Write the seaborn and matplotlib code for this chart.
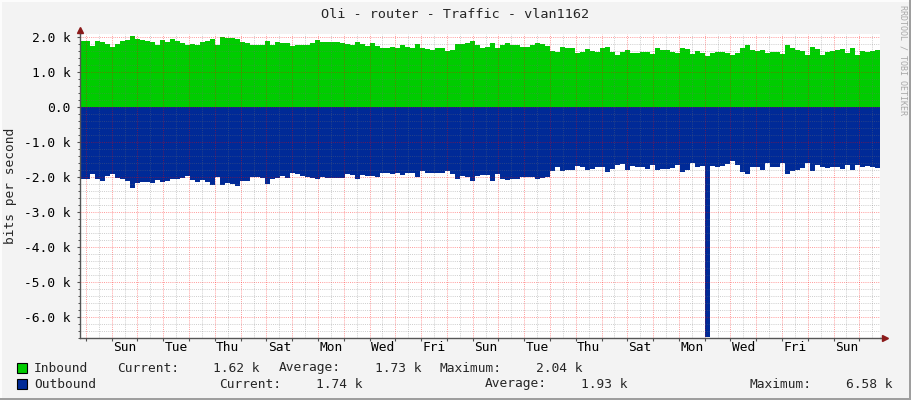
import numpy as np
import pandas as pd
import matplotlib
matplotlib.use("Agg")
import matplotlib.pyplot as plt
from matplotlib.patches import Rectangle
from matplotlib.ticker import FixedLocator, FuncFormatter, FixedFormatter
import seaborn as sns

sns.set_style("white")
plt.rcParams['font.family'] = ['DejaVu Sans Mono', 'DejaVu Sans']

# -------------------------------
# Data (k bits per second, one value per consolidated step)
# -------------------------------
inbound = [
    1.89, 1.89, 1.75, 1.89, 1.86, 1.81, 1.72, 1.80, 1.88, 1.92,
    2.02, 1.93, 1.91, 1.90, 1.87, 1.78, 1.92, 1.86, 1.93, 1.90,
    1.83, 1.77, 1.80, 1.77, 1.87, 1.90, 1.93, 1.77, 2.00, 1.97,
    1.96, 1.93, 1.85, 1.84, 1.77, 1.77, 1.77, 1.90, 1.78, 1.85,
    1.82, 1.84, 1.74, 1.78, 1.77, 1.78, 1.82, 1.91, 1.86, 1.87,
    1.86, 1.85, 1.84, 1.80, 1.77, 1.86, 1.80, 1.74, 1.82, 1.74,
    1.70, 1.70, 1.71, 1.70, 1.76, 1.71, 1.70, 1.80, 1.68, 1.65,
    1.64, 1.70, 1.68, 1.61, 1.63, 1.80, 1.81, 1.82, 1.88, 1.77,
    1.70, 1.72, 1.82, 1.70, 1.78, 1.82, 1.77, 1.77, 1.72, 1.72,
    1.77, 1.82, 1.79, 1.74, 1.60, 1.56, 1.72, 1.68, 1.68, 1.53,
    1.57, 1.67, 1.60, 1.58, 1.68, 1.72, 1.58, 1.48, 1.58, 1.63,
    1.53, 1.55, 1.58, 1.58, 1.51, 1.70, 1.63, 1.63, 1.57, 1.53,
    1.70, 1.65, 1.51, 1.60, 1.53, 1.46, 1.53, 1.56, 1.58, 1.55,
    1.49, 1.55, 1.68, 1.77, 1.63, 1.59, 1.64, 1.53, 1.56, 1.58,
    1.51, 1.77, 1.68, 1.63, 1.60, 1.49, 1.72, 1.65, 1.50, 1.58,
    1.61, 1.63, 1.65, 1.55, 1.68, 1.50, 1.60, 1.58, 1.59, 1.62,
]

outbound = [
    2.07, 2.05, 1.92, 2.07, 2.10, 1.98, 1.92, 2.02, 2.07, 2.12,
    2.30, 2.18, 2.13, 2.15, 2.16, 2.09, 2.13, 2.10, 2.07, 2.07,
    2.03, 1.97, 2.09, 2.13, 2.09, 2.15, 2.24, 2.01, 2.22, 2.18,
    2.20, 2.27, 2.11, 2.10, 1.99, 1.99, 2.03, 2.19, 2.05, 2.04,
    1.98, 2.04, 1.88, 1.92, 1.97, 1.99, 2.04, 2.07, 2.00, 2.04,
    2.04, 2.04, 2.02, 1.90, 1.95, 2.05, 1.95, 1.97, 1.96, 2.01,
    1.88, 1.88, 1.90, 1.89, 1.95, 1.88, 1.88, 1.99, 1.82, 1.88,
    1.88, 1.88, 1.88, 1.84, 1.90, 2.05, 1.98, 2.00, 2.12, 1.97,
    1.94, 1.94, 2.10, 1.90, 2.05, 2.08, 2.06, 2.05, 1.99, 1.99,
    2.00, 2.06, 2.03, 1.99, 1.82, 1.71, 1.84, 1.80, 1.80, 1.68,
    1.70, 1.80, 1.78, 1.70, 1.70, 1.86, 1.78, 1.65, 1.62, 1.81,
    1.69, 1.70, 1.70, 1.78, 1.66, 1.81, 1.78, 1.76, 1.73, 1.66,
    1.85, 1.79, 1.60, 1.70, 1.69, 6.58, 1.69, 1.70, 1.69, 1.62,
    1.55, 1.66, 1.85, 1.90, 1.70, 1.72, 1.79, 1.61, 1.70, 1.70,
    1.61, 1.92, 1.82, 1.80, 1.75, 1.59, 1.84, 1.66, 1.70, 1.75,
    1.70, 1.70, 1.78, 1.66, 1.80, 1.66, 1.70, 1.68, 1.70, 1.74,
]

day_names = ["Sun", "Tue", "Thu", "Sat", "Mon", "Wed", "Fri", "Sun",
             "Tue", "Thu", "Sat", "Mon", "Wed", "Fri", "Sun"]

legend_names = ["Inbound", "Outbound"]
legend_colors = ["#00CC00", "#002A97"]
current_vals = ["1.62 k", "1.74 k"]
average_vals = ["1.73 k", "1.93 k"]
maximum_vals = ["2.04 k", "6.58 k"]

# time axis in days, day boundaries at integers
t_start, t_end = -0.23, 30.80
edges = np.linspace(t_start, t_end, len(inbound) + 1)
df = pd.DataFrame({
    "t": (edges[:-1] + edges[1:]) / 2,
    "inbound": np.array(inbound) * 1000,
    "outbound": -np.array(outbound) * 1000,
})

# -------------------------------
# Figure
# -------------------------------
W, H = 911, 400
fig = plt.figure(figsize=(W / 100, H / 100), dpi=100, facecolor="#F3F3F3")


def fx(px):
    return px / W


def fy(py):
    return 1 - py / H


ax = fig.add_axes([fx(80), fy(338), fx(800), (338 - 33.5) / H])
ax.set_facecolor("white")

sns.histplot(data=df, x="t", weights="inbound", bins=list(edges),
             element="step", fill=True, color=legend_colors[0], alpha=1,
             linewidth=0, ax=ax)
sns.histplot(data=df, x="t", weights="outbound", bins=list(edges),
             element="step", fill=True, color=legend_colors[1], alpha=1,
             linewidth=0, ax=ax)

ax.set_xlim(t_start, t_end)
ax.set_ylim(-6600, 2100)
ax.set_xlabel("")
ax.set_ylabel("")

# y grid
ax.yaxis.set_major_locator(FixedLocator(np.arange(-6000, 2001, 1000)))
ax.yaxis.set_minor_locator(FixedLocator(np.arange(-6600, 2101, 200)))


def kfmt(v, pos):
    if abs(v) < 1e-9:
        return "0.0"
    return "%.1f k" % (v / 1000)


ax.yaxis.set_major_formatter(FuncFormatter(kfmt))

# x grid: day boundaries major, half days minor (labels at noon)
days = np.arange(0, 31)
halves = np.arange(-0.5, 31, 1.0)
ax.xaxis.set_major_locator(FixedLocator(days))
ax.xaxis.set_major_formatter(FuncFormatter(lambda v, p: ""))
ax.xaxis.set_minor_locator(FixedLocator(halves))
minor_labels = []
for h in halves:
    k = int(round(h - 1.5))
    if k >= 0 and k % 2 == 0 and k // 2 < len(day_names):
        minor_labels.append(day_names[k // 2])
    else:
        minor_labels.append("")
ax.xaxis.set_minor_formatter(FixedFormatter(minor_labels))

ax.set_axisbelow(False)
ax.grid(which="major", color="#FF0000", alpha=0.4, linestyle=(0, (1, 1.2)), linewidth=0.7)
ax.grid(which="minor", color="#707070", alpha=0.35, linestyle=(0, (1, 1.2)), linewidth=0.7)

ax.tick_params(axis="y", which="major", direction="out", length=2.5, width=0.8,
               color="#505050", pad=4.2, labelsize=9.3, labelcolor="#000000")
ax.tick_params(axis="y", which="minor", direction="out", length=1.5, width=0.7,
               color="#505050")
ax.tick_params(axis="x", which="major", direction="out", length=2, width=0.8,
               color="#505050")
ax.tick_params(axis="x", which="minor", length=0, pad=2, labelsize=9.3,
               labelcolor="#000000")
ax.yaxis.set_ticks_position("left")
ax.xaxis.set_ticks_position("bottom")

for s in ["top", "right"]:
    ax.spines[s].set_visible(False)
for s in ["left", "bottom"]:
    ax.spines[s].set_color("#555555")
    ax.spines[s].set_linewidth(1)

# axis arrows
ax.plot([1.0, 1.006], [0, 0], transform=ax.transAxes, color="#555555",
        lw=1, clip_on=False)
ax.plot(1.006, 0, marker=">", ms=4.5, color="#8B1A1A", transform=ax.transAxes,
        clip_on=False)
ax.plot([0, 0], [1.0, 1.012], transform=ax.transAxes, color="#555555",
        lw=1, clip_on=False)
ax.plot(0, 1.012, marker="^", ms=4.5, color="#8B1A1A", transform=ax.transAxes,
        clip_on=False)

# -------------------------------
# Texts
# -------------------------------
fig.text(fx(455), fy(14), "Oli - router - Traffic - vlan1162", ha="center",
         va="center", fontsize=9.7)
fig.text(fx(11), fy(186), "bits per second", rotation=90, ha="center",
         va="center", fontsize=9.3)
fig.text(fx(903), fy(60), "RRDTOOL / TOBI OETIKER", rotation=-90,
         ha="center", va="center", fontsize=6, color="#A8A8A8")

# legend
rows_y = [368, 384]
cur_x = [(117, 213), (219, 316)]
avg_x = [(279, 375), (485, 581)]
max_x = [(440, 536), (749, 846)]
for i in range(2):
    y = rows_y[i]
    fig.patches.append(Rectangle((fx(17), fy(y + 5)), fx(10), 10 / H,
                                 transform=fig.transFigure, facecolor=legend_colors[i],
                                 edgecolor="black", linewidth=0.8))
    fig.text(fx(34), fy(y), legend_names[i], va="center", fontsize=9.3)
    fig.text(fx(cur_x[i][0]), fy(y), "Current:", va="center", fontsize=9.3)
    fig.text(fx(cur_x[i][1]), fy(y), current_vals[i], va="center", fontsize=9.3)
    fig.text(fx(avg_x[i][0]), fy(y), "Average:", va="center", fontsize=9.3)
    fig.text(fx(avg_x[i][1]), fy(y), average_vals[i], va="center", fontsize=9.3)
    fig.text(fx(max_x[i][0]), fy(y), "Maximum:", va="center", fontsize=9.3)
    fig.text(fx(max_x[i][1]), fy(y), maximum_vals[i], va="center", fontsize=9.3)

# 3D frame
fig.patches.append(Rectangle((0, 0), fx(2), 1, transform=fig.transFigure,
                             facecolor="#FCFCFC", edgecolor="none"))
fig.patches.append(Rectangle((0, 1 - 2 / H), 1, 2 / H, transform=fig.transFigure,
                             facecolor="#FCFCFC", edgecolor="none"))
fig.patches.append(Rectangle((1 - fx(2), 0), fx(2), 1, transform=fig.transFigure,
                             facecolor="#9E9E9E", edgecolor="none"))
fig.patches.append(Rectangle((0, 0), 1, 2 / H, transform=fig.transFigure,
                             facecolor="#9E9E9E", edgecolor="none"))

fig.savefig("out.png", dpi=100, facecolor=fig.get_facecolor())
